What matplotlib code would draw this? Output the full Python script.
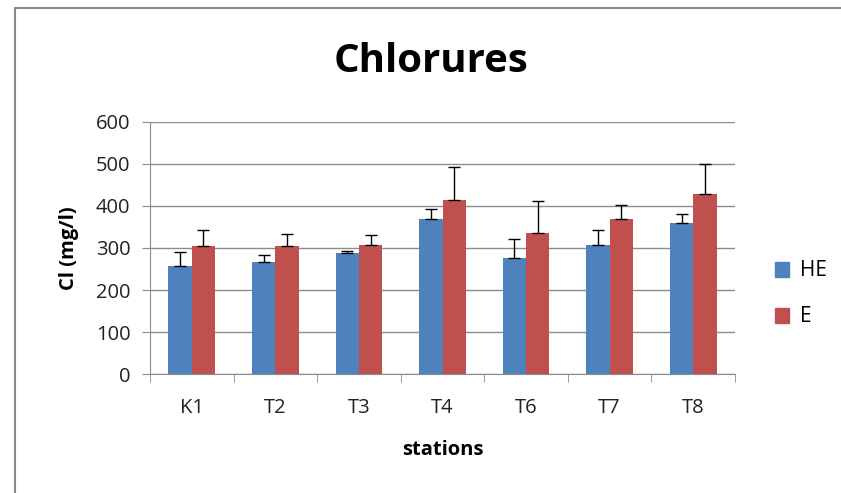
import numpy as np
import matplotlib.pyplot as plt
from matplotlib.patches import Rectangle, Patch

# data
stations = ['K1', 'T2', 'T3', 'T4', 'T6', 'T7', 'T8']
he_vals = [258, 267, 289, 368, 276, 306, 359]
he_err = [32, 17, 5, 24, 45, 37, 23]
e_vals = [304, 304, 306, 414, 335, 368, 429]
e_err = [39, 29, 24, 78, 78, 35, 70]

BLUE = '#4F81BD'
RED = '#C0504D'
GRID = '#8C8C8C'

plt.rcParams['font.family'] = ['Open Sans', 'DejaVu Sans']

fig = plt.figure(figsize=(8.41, 4.93), dpi=100)
ax = fig.add_axes([150/841, 1-374/493, 585/841, 252/493])

# outer chart frame (partly cut off on the right and bottom)
fig.patches.append(Rectangle((15/841, -0.1), 1.2, 1-8/493+0.1, transform=fig.transFigure,
                             fill=False, edgecolor='#888888', linewidth=1.5))

x = np.arange(len(stations))
w = 0.28
ekw = dict(ecolor='black', elinewidth=1, capsize=4, capthick=1)
ax.bar(x - w/2, he_vals, w, color=BLUE, zorder=3)
ax.errorbar(x - w/2, he_vals, yerr=[np.zeros(len(he_err)), he_err], fmt='none', zorder=4, **ekw)
ax.bar(x + w/2, e_vals, w, color=RED, zorder=3)
ax.errorbar(x + w/2, e_vals, yerr=[np.zeros(len(e_err)), e_err], fmt='none', zorder=4, **ekw)

ax.set_xlim(-0.5, len(stations) - 0.5)
ax.set_ylim(0, 600)
ax.set_yticks(range(0, 601, 100))
ax.yaxis.grid(True, color=GRID, linewidth=1, zorder=0)
ax.set_axisbelow(True)

ax.set_xticks(x)
ax.set_xticklabels(stations)
ax.set_xticks(np.arange(-0.5, len(stations)), minor=True)
ax.tick_params(axis='x', which='major', length=0, pad=17, labelsize=14.5, labelcolor='#222222')
ax.tick_params(axis='x', which='minor', length=6, color=GRID, direction='out')
ax.tick_params(axis='y', length=6, color=GRID, labelsize=14.5, pad=8, labelcolor='#222222')

for side in ['top', 'right']:
    ax.spines[side].set_visible(False)
for side in ['left', 'bottom']:
    ax.spines[side].set_color(GRID)

ax.set_xlabel('stations', fontsize=14.5, fontweight='bold', labelpad=16)
ax.set_ylabel('Cl (mg/l)', fontsize=14.5, fontweight='bold', labelpad=12)

fig.text(431/841, 1-62/493, 'Chlorures', ha='center', va='center', fontsize=29, fontweight='bold')

handles = [Patch(color=BLUE, label='HE'), Patch(color=RED, label='E')]
fig.legend(handles=handles, loc='center left', bbox_to_anchor=(756/841, 1-294/493),
           frameon=False, fontsize=15, labelspacing=1.2, handlelength=0.7, handleheight=0.7,
           handletextpad=0.5)

fig.savefig('out.png', dpi=100)
